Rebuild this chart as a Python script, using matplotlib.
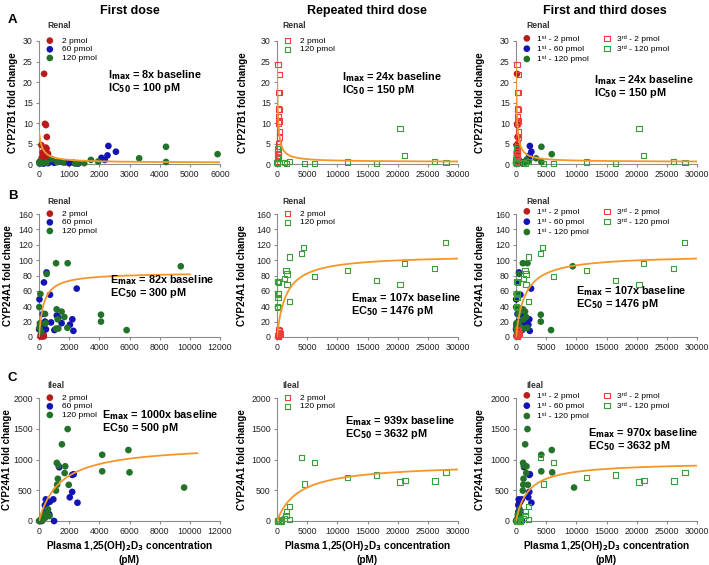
import numpy as np
import matplotlib
matplotlib.use("Agg")
import matplotlib.pyplot as plt

# ---- data ----
# A: renal CYP27B1, first dose
a1_red_x = [170, 200, 230, 260, 80, 230, 250, 180, 120, 300, 150, 220, 90, 280, 60, 190, 350, 130, 40]
a1_red_y = [22.0, 9.8, 9.5, 6.6, 4.6, 4.0, 3.7, 3.2, 2.8, 2.5, 2.2, 1.8, 1.5, 1.2, 0.8, 0.6, 0.5, 0.3, 0.2]
a1_blue_x = [2300, 2550, 2270, 2070, 2180, 400, 600, 850, 1000, 1150, 300, 150, 700, 500, 1300]
a1_blue_y = [4.4, 3.0, 2.1, 1.5, 1.0, 0.8, 0.5, 0.4, 0.2, 0.3, 0.2, 0.1, 0.6, 0.3, 0.1]
a1_green_x = [5920, 4210, 3320, 4210, 1720, 1960, 1500, 1200, 1280, 600, 420, 50, 20, 10, 250, 100, 800]
a1_green_y = [2.4, 4.2, 1.4, 0.5, 1.0, 0.6, 0.2, 0.1, 0.2, 0.5, 1.2, 0.3, 0.1, 0.5, 0.3, 0.2, 0.4]
# A: renal CYP27B1, third dose
a2_red_x = [170, 390, 280, 480, 260, 330, 300, 350, 300, 380, 360, 200, 250, 180, 260, 150, 120]
a2_red_y = [24.2, 21.9, 17.4, 17.5, 13.4, 13.2, 11.5, 10.5, 10.0, 7.8, 6.6, 5.0, 4.2, 3.0, 2.2, 1.4, 0.6]
a2_green_x = [20400, 21100, 26100, 28000, 11700, 16500, 6200, 4500, 2100, 1600, 1200, 100, 50, 0, 60, 90]
a2_green_y = [8.7, 2.0, 0.6, 0.4, 0.5, 0.1, 0.2, 0.1, 0.6, 0.1, 0.3, 0.2, 0.1, 0.4, 1.5, 3.8]

# B: renal CYP24A1, first dose
b1_red_x = [150, 250, 200, 300, 100, 280, 230, 180, 320, 120]
b1_red_y = [2, 4, 1, 3, 0.5, 1.5, 6, 8, 0.8, 3]
b1_blue_x = [500, 330, 2500, 730, 30, 1280, 1180, 2210, 800, 400, 2050, 1020, 2280, 460, 70, 10, 250, 150, 1500]
b1_blue_y = [84, 71, 63, 55, 49, 25, 28, 23, 19, 20, 16, 9, 8, 10, 16, 10, 30, 12, 18]
b1_green_x = [1130, 1900, 9400, 510, 90, 20, 1170, 1500, 1680, 1240, 400, 1130, 1280, 1880, 4110, 4110, 5810, 70, 440, 150, 30]
b1_green_y = [96, 96, 92, 82, 56, 39, 36, 33, 26, 23, 30, 11, 11, 12, 29, 20, 9, 18, 18, 7, 12]
# B: renal CYP24A1, third dose
b2_red_x = [200, 300, 450, 350, 250, 400, 150, 300, 500, 200]
b2_red_y = [10, 9, 8, 6, 4, 3, 2, 1, 5, 0.5]
b2_green_x = [27900, 4450, 4050, 2050, 1500, 1670, 1220, 1670, 2110, 100, 150, 250, 150, 200, 150, 100, 150,
              6170, 11700, 16500, 20400, 21100, 26100]
b2_green_y = [123, 116, 109, 104, 86, 82, 76, 68, 46, 72, 72, 71, 57, 56, 51, 40, 38,
              79, 86, 74, 68, 96, 89]

# C: ileal CYP24A1, first dose
c1_red_x = [50, 100, 150, 200, 80]
c1_red_y = [0, 5, 10, 0, 2]
c1_blue_x = [1340, 2200, 2300, 2040, 2200, 2550, 950, 720, 450, 390, 570, 680, 1000, 300, 200, 100, 400, 500]
c1_blue_y = [874, 750, 760, 385, 473, 297, 352, 313, 352, 258, 176, 110, 0, 50, 20, 0, 150, 280]
c1_green_x = [1900, 1520, 1180, 1290, 1740, 1700, 1250, 1970, 1200, 1130, 4190, 4190, 5930, 6000, 9620,
              600, 500, 400, 300, 100, 0, 200, 700]
c1_green_y = [1495, 1247, 945, 901, 890, 780, 687, 588, 590, 494, 1077, 808, 1154, 791, 544,
              190, 130, 50, 100, 20, 0, 10, 80]
# C: ileal CYP24A1, third dose
c2_red_x = [100, 300, 500, 200]
c2_red_y = [5, 3, 0, 0]
c2_green_x = [4050, 6220, 4500, 11700, 16500, 20400, 21200, 26200, 28000, 2050, 1560, 1500, 2100, 1200,
              500, 300, 100, 700, 800]
c2_green_y = [1032, 957, 602, 704, 747, 634, 656, 650, 790, 242, 161, 86, 21, 40,
              10, 5, 0, 0, 15]

# fitted model curves (parameters tuned to the drawn lines)
inh_params = [(8.0, 0.3, 100, 6000), (24.0, 0.5, 150, 30000), (24.0, 0.5, 150, 30000)]  # i0, imin, ic50, xmax
b_params = [(84, 300, 10000), (107, 1476, 30000), (107, 1476, 30000)]  # emax, ec50, xmax
c_params = [(1250, 1400, 10500), (939, 3632, 30000), (960, 2000, 30000)]

annot = [
    [("I", "8x", "IC", "100"), ("I", "24x", "IC", "150"), ("I", "24x", "IC", "150")],
    [("E", "82x", "EC", "300"), ("E", "107x", "EC", "1476"), ("E", "107x", "EC", "1476")],
    [("E", "1000x", "EC", "500"), ("E", "939x", "EC", "3632"), ("E", "970x", "EC", "3632")],
]
annot_pos = [
    [(0.38, 0.724), (0.36, 0.707), (0.43, 0.683)],
    [(0.39, 0.463), (0.41, 0.317), (0.333, 0.374)],
    [(0.35, 0.862), (0.378, 0.813), (0.40, 0.715)],
]
col_titles = ["First dose", "Repeated third dose", "First and third doses"]
title_x = [130, 367, 605]
row_tissue = ["Renal", "Renal", "Ileal"]
row_ylabel = ["CYP27B1 fold change", "CYP24A1 fold change", "CYP24A1 fold change"]
row_ylim = [30, 160, 2000]
row_ystep = [5, 20, 500]

RED = "#b81c1c"
BLUE = "#1414b4"
GREEN = "#23722a"
RED_O = "#f03c3c"
GREEN_O = "#3a9e3a"
ORANGE = "#f5962a"

data = [
    ((a1_red_x, a1_red_y), (a1_blue_x, a1_blue_y), (a1_green_x, a1_green_y),
     (a2_red_x, a2_red_y), (a2_green_x, a2_green_y)),
    ((b1_red_x, b1_red_y), (b1_blue_x, b1_blue_y), (b1_green_x, b1_green_y),
     (b2_red_x, b2_red_y), (b2_green_x, b2_green_y)),
    ((c1_red_x, c1_red_y), (c1_blue_x, c1_blue_y), (c1_green_x, c1_green_y),
     (c2_red_x, c2_red_y), (c2_green_x, c2_green_y)),
]

plt.rcParams["font.family"] = ["Liberation Sans", "DejaVu Sans"]

fig = plt.figure(figsize=(7.09, 5.65), dpi=100)
lefts = [39 / 709, 277 / 709, 516 / 709]
bottoms = [(565 - 164) / 565, (565 - 337) / 565, (565 - 521) / 565]
w, h = 181 / 709, 123 / 565
# y label anchor (right side of the rotated text), pixels from the left edge of the figure
ylab_px = [[18, 248, 485], [13, 247, 485], [12, 247, 485]]
tissue_y = [1.13, 1.10, 1.105]
tissue_x = [0.044, 0.028, 0.056]


def filled(ax, xy, c, lab):
    return ax.scatter(xy[0], xy[1], s=23, color=c, edgecolors="none", label=lab, clip_on=False, zorder=3)


def opened(ax, xy, c, lab):
    return ax.scatter(xy[0], xy[1], s=14, marker="s", facecolors="none", edgecolors=c,
                      linewidths=0.8, label=lab, clip_on=False, zorder=3)


for r in range(3):
    red1, blue1, green1, red3, green3 = data[r]
    for c in range(3):
        ax = fig.add_axes([lefts[c], bottoms[r], w, h])
        handles = []
        if c == 0:
            handles += [filled(ax, red1, RED, "2 pmol"), filled(ax, blue1, BLUE, "60 pmol"),
                        filled(ax, green1, GREEN, "120 pmol")]
        elif c == 1:
            handles += [opened(ax, red3, RED_O, "2 pmol"), opened(ax, green3, GREEN_O, "120 pmol")]
        else:
            handles += [filled(ax, red1, RED, "1ˢᵗ - 2 pmol"), filled(ax, blue1, BLUE, "1ˢᵗ - 60 pmol"),
                        filled(ax, green1, GREEN, "1ˢᵗ - 120 pmol"),
                        opened(ax, red3, RED_O, "3ʳᵈ - 2 pmol"),
                        opened(ax, green3, GREEN_O, "3ʳᵈ - 120 pmol")]

        # model line
        if r == 0:
            i0, imin, ic50, xmax = inh_params[c]
            xs = np.linspace(0, xmax, 600)
            ys = i0 - (i0 - imin) * xs / (ic50 + xs)
        else:
            emax, ec50, xmax = (b_params if r == 1 else c_params)[c]
            xs = np.linspace(0, xmax, 600)
            ys = emax * xs / (ec50 + xs)
        ax.plot(xs, ys, color=ORANGE, lw=1.3, zorder=4)

        if c == 0:
            xmax_ax, xstep = (6000, 1000) if r == 0 else (12000, 2000)
        else:
            xmax_ax, xstep = 30000, 5000
        ax.set_xlim(0, xmax_ax)
        ax.set_ylim(0, row_ylim[r])
        ax.set_xticks(np.arange(0, xmax_ax + 1, xstep))
        ax.set_yticks(np.arange(0, row_ylim[r] + 1, row_ystep[r]))
        for s in ["top", "right"]:
            ax.spines[s].set_visible(False)
        for s in ["left", "bottom"]:
            ax.spines[s].set_color("#8c8c8c")
            ax.spines[s].set_linewidth(0.8)
        ax.tick_params(labelsize=6.3, colors="#8c8c8c", labelcolor="#222222", length=2.5, width=0.8, pad=2)
        ax.set_ylabel(row_ylabel[r], fontsize=7, fontweight="bold")
        ax.yaxis.set_label_coords((ylab_px[r][c] - lefts[c] * 709) / 181, 0.5)
        if r == 2:
            ax.set_xlabel("Plasma 1,25(OH)$_\\mathbf{2}$D$_\\mathbf{3}$ concentration\n(pM)",
                          fontsize=7.2, fontweight="bold", labelpad=2)

        ax.text(tissue_x[c], tissue_y[r], row_tissue[r], transform=ax.transAxes, fontsize=6.2,
                fontweight="bold", color="#333333", va="center", ha="left")
        leg = ax.legend(handles=handles, loc="upper left", bbox_to_anchor=(0.0, 1.08 if c < 2 else 1.10),
                        ncol=2 if c == 2 else 1, frameon=False, fontsize=6,
                        handletextpad=0.9 if c < 2 else 0.6,
                        labelspacing=0.1 if c < 2 else 0.3,
                        borderpad=0.2, columnspacing=1.6, handlelength=1.2)

        p, val, q, conc = annot[r][c]
        tx, ty = annot_pos[r][c]
        ax.text(tx, ty, p + "$_{\\mathbf{max}}$ = " + val + " baseline", transform=ax.transAxes,
                fontsize=7.8, fontweight="bold", va="center", zorder=5)
        ax.text(tx, ty - 0.105, q + "$_{\\mathbf{50}}$ = " + conc + " pM", transform=ax.transAxes,
                fontsize=7.8, fontweight="bold", va="center", zorder=5)

for c, t in enumerate(col_titles):
    fig.text(title_x[c] / 709, 1 - 11 / 565, t, ha="center", va="center", fontsize=9, fontweight="bold")
for lab, y in zip("ABC", [20, 196, 378]):
    fig.text(8 / 709, 1 - y / 565, lab, ha="left", va="center", fontsize=9.5, fontweight="bold")

fig.savefig("out.png", dpi=100)
